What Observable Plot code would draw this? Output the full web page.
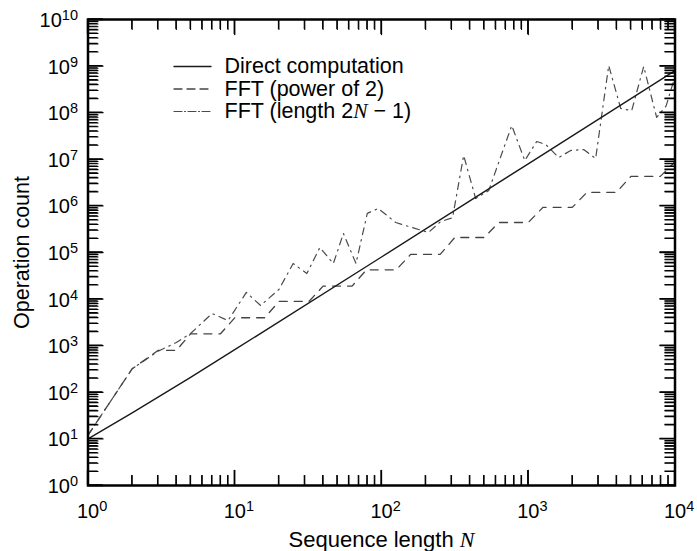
<!DOCTYPE html>
<html>
<head>
<meta charset="utf-8">
<script src="https://cdn.jsdelivr.net/npm/d3@7"></script>
<script src="https://cdn.jsdelivr.net/npm/@observablehq/plot@0.6"></script>
<style>
  html, body { margin: 0; padding: 0; background: #fff; }
</style>
</head>
<body>
<div id="chart"></div>
<script>
// ---- Data ----
const directN   = [1, 2, 5, 10, 100, 1000, 10000];
const directOps = [10, 36, 210, 820, 8.0e4, 8.0e6, 8.0e8];

const pow2N   = [1, 2, 3, 4, 5, 6, 8, 10, 13, 16, 20, 25, 32, 40, 50, 63, 79, 100, 126,
                 158, 200, 251, 316, 398, 501, 631, 794, 1000, 1259, 1585, 1995,
                 2512, 3162, 3981, 5012, 6310, 7943, 10000];
const pow2Ops = [12, 320, 790, 790, 1800, 1800, 1800, 3980, 3980, 3980, 8900, 8900, 8900,
                 1.9e4, 1.9e4, 1.9e4, 4.25e4, 4.25e4, 4.25e4, 9.1e4, 9.1e4, 9.1e4,
                 2.1e5, 2.1e5, 2.1e5, 4.4e5, 4.4e5, 4.4e5, 9.3e5, 9.3e5, 9.3e5,
                 1.95e6, 1.95e6, 1.95e6, 4.3e6, 4.3e6, 4.3e6, 8.8e6];

const lenN   = [1, 2, 3, 4, 5, 7, 9, 12, 15, 20, 25, 31, 38, 47, 55, 67, 80, 95, 125,
                209, 253, 305, 363, 438, 538, 772, 947, 1142, 1315, 1613, 1947, 2386,
                2879, 3535, 4266, 5070, 6120, 7499, 8700, 10000];
const lenOps = [12, 320, 760, 1170, 1830, 4900, 3470, 13900, 7290, 16100, 5.8e4, 3.54e4,
                1.28e5, 5.8e4, 2.56e5, 5.8e4, 6.9e5, 8.8e5, 4.4e5, 2.69e5, 4.6e5, 5.6e5,
                1.21e7, 1.44e6, 2.14e6, 5.3e7, 9.4e6, 2.41e7, 2.08e7, 1.09e7, 1.55e7,
                1.62e7, 1.04e7, 1.03e9, 1.23e8, 1.11e8, 9.8e8, 7.9e7, 1.4e8, 6.0e8];

const xDecades = [0, 1, 2, 3, 4];
const yDecades = [0, 1, 2, 3, 4, 5, 6, 7, 8, 9, 10];
const minorMult = [2, 3, 4, 5, 6, 7, 8, 9];

const seriesNames = ["Direct computation", "FFT (power of 2)", "FFT (length 2N − 1)"];

const W = 697, H = 551;
const M = {left: 87.5, right: 22.5, top: 19, bottom: 66};
const plotW = W - M.left - M.right;
const plotH = H - M.top - M.bottom;

const majorX = xDecades.map(k => 10 ** k);
const majorY = yDecades.map(k => 10 ** k);
const minorX = xDecades.slice(0, -1).flatMap(k => minorMult.map(m => m * 10 ** k));
const minorY = yDecades.slice(0, -1).flatMap(k => minorMult.map(m => m * 10 ** k));
const xMin = majorX[0], xMax = majorX[majorX.length - 1];
const yMin = majorY[0], yMax = majorY[majorY.length - 1];
const pxDecX = plotW / (xDecades.length - 1);
const pxDecY = plotH / (yDecades.length - 1);

const direct = directN.map((n, i) => ({n, v: directOps[i]}));
const pow2 = pow2N.map((n, i) => ({n, v: pow2Ops[i]}));
const len2 = lenN.map((n, i) => ({n, v: lenOps[i]}));

const fmt = d => `10^${Math.round(Math.log10(d))}`;

const styles = [
  {stroke: "#1a1a1a", strokeWidth: 1.4, dash: null, legendDash: null},
  {stroke: "#444", strokeWidth: 1.3, dash: "8,7", legendDash: "8,5"},
  {stroke: "#4a4a4a", strokeWidth: 1.2, dash: "7,5,1.5,5", legendDash: "8,2.5,1,2.5"}
];

// Inward tick segments on all four sides, as short line pieces in data space
function tickSegments(xs, ys, len) {
  const segs = [];
  let id = 0;
  const fy = 10 ** (len / pxDecY), fx = 10 ** (len / pxDecX);
  for (const x of xs) {
    segs.push({id, x, y: yMin}, {id: id++, x, y: yMin * fy});
    segs.push({id, x, y: yMax}, {id: id++, x, y: yMax / fy});
  }
  for (const y of ys) {
    segs.push({id, x: xMin, y}, {id: id++, x: xMin * fx, y});
    segs.push({id, x: xMax, y}, {id: id++, x: xMax / fx, y});
  }
  return segs;
}
const majorSegs = tickSegments(majorX, majorY, 15);
const minorSegs = tickSegments(minorX, minorY, 10);

const shapeRight = {draw(ctx, l) { ctx.moveTo(0, 0); ctx.lineTo(l, 0); }};

const legendMarks = [];
seriesNames.forEach((name, i) => {
  const s = styles[i];
  legendMarks.push(Plot.vector([0], {
    frameAnchor: "top-left", dx: 86, dy: 47 + 22.5 * i, length: 37, anchor: "start",
    shape: shapeRight, stroke: s.stroke, strokeWidth: s.strokeWidth,
    strokeDasharray: s.legendDash
  }));
  legendMarks.push(Plot.text([name], {
    frameAnchor: "top-left", dx: 136.5, dy: 47 + 22.5 * i, text: d => d,
    textAnchor: "start", lineAnchor: "middle", fontSize: 21.5, fill: "#000"
  }));
});

const chart = Plot.plot({
  width: W, height: H,
  marginLeft: M.left, marginRight: M.right, marginTop: M.top, marginBottom: M.bottom,
  x: {type: "log", domain: [xMin, xMax], axis: null},
  y: {type: "log", domain: [yMin, yMax], axis: null},
  style: {fontFamily: "'Liberation Sans', Arial, Helvetica, sans-serif", fontSize: "20px", background: "#fff", color: "#000"},
  marks: [
    Plot.line(len2, {x: "n", y: "v", stroke: styles[2].stroke, strokeWidth: styles[2].strokeWidth, strokeDasharray: styles[2].dash}),
    Plot.line(pow2, {x: "n", y: "v", stroke: styles[1].stroke, strokeWidth: styles[1].strokeWidth, strokeDasharray: styles[1].dash}),
    Plot.line(direct, {x: "n", y: "v", stroke: styles[0].stroke, strokeWidth: styles[0].strokeWidth}),
    Plot.line(minorSegs, {x: "x", y: "y", z: "id", stroke: "#000", strokeWidth: 1.1}),
    Plot.line(majorSegs, {x: "x", y: "y", z: "id", stroke: "#000", strokeWidth: 1.3}),
    Plot.frame({stroke: "#000", strokeWidth: 2.5}),
    Plot.axisX(majorX, {anchor: "bottom", tickSize: 0, tickPadding: 18, tickFormat: fmt, label: null, fontSize: 20}),
    Plot.axisY(majorY, {anchor: "left", tickSize: 0, tickPadding: 10, tickFormat: fmt, label: null, fontSize: 20, dy: 1}),
    Plot.text(["Operation count"], {frameAnchor: "left", dx: -66, rotate: -90, text: d => d, fontSize: 21.5, textAnchor: "middle", lineAnchor: "middle"}),
    Plot.text(["Sequence length N"], {frameAnchor: "bottom", dy: 46, text: d => d, fontSize: 22, textAnchor: "middle", lineAnchor: "top"}),
    ...legendMarks
  ]
});

// Extra tick overlay drawn from the chart's own scales, as one path per size
const sx = chart.scale("x"), sy = chart.scale("y");
function tickPath(xs, ys, len) {
  const x0 = sx.apply(xMin), x1 = sx.apply(xMax), y0 = sy.apply(yMin), y1 = sy.apply(yMax);
  let d = "";
  for (const v of xs) { const px = sx.apply(v); d += `M${px},${y0}v${-len}M${px},${y1}v${len}`; }
  for (const v of ys) { const py = sy.apply(v); d += `M${x0},${py}h${len}M${x1},${py}h${-len}`; }
  return d;
}
const svgNS = "http://www.w3.org/2000/svg";
const tg = document.createElementNS(svgNS, "g");
tg.setAttribute("aria-label", "axis ticks");
for (const [xs, ys, len, sw] of [[majorX, majorY, 15, 1.3], [minorX, minorY, 10, 1.1]]) {
  const p = document.createElementNS(svgNS, "path");
  p.setAttribute("d", tickPath(xs, ys, len));
  p.setAttribute("stroke", "#000");
  p.setAttribute("stroke-width", sw);
  p.setAttribute("fill", "none");
  tg.append(p);
}
chart.append(tg);

// Typeset superscripts and the italic N
chart.querySelectorAll("text").forEach(t => {
  const s = t.textContent;
  const m = /^10\^(\d+)$/.exec(s);
  if (m) {
    const isX = !!t.closest('[aria-label^="x-axis"]');
    t.textContent = "";
    const base = document.createElementNS(svgNS, "tspan");
    base.textContent = "10";
    const sup = document.createElementNS(svgNS, "tspan");
    sup.textContent = m[1];
    sup.setAttribute("dy", "-7");
    sup.setAttribute("font-size", "14.5");
    if (isX) {
      t.setAttribute("text-anchor", "start");
      base.setAttribute("dx", "-11.1");
    }
    t.append(base, sup);
  } else if (s.includes("N") && (s.startsWith("Sequence") || s.startsWith("FFT (length"))) {
    t.textContent = "";
    s.split(/(N)/).forEach(part => {
      if (!part) return;
      const sp = document.createElementNS(svgNS, "tspan");
      sp.textContent = part;
      if (part === "N") {
        sp.setAttribute("font-style", "italic");
        sp.setAttribute("font-family", "'Liberation Serif', 'Times New Roman', serif");
      }
      t.append(sp);
    });
  }
});

document.getElementById("chart").append(chart);
</script>
</body>
</html>
